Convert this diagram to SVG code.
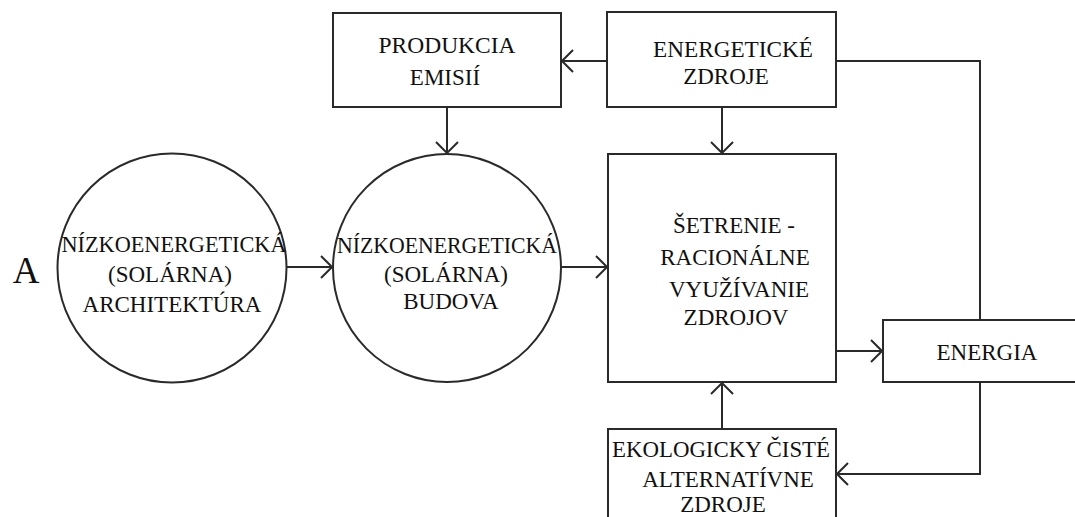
<svg xmlns="http://www.w3.org/2000/svg" width="1075" height="517" viewBox="0 0 1075 517">
<style>
.n{fill:#fff;stroke:#2a2a2a;stroke-width:2}
.t{font-family:'Liberation Serif','Times New Roman',serif;font-size:23px;fill:#111;text-anchor:middle}
.c{fill:none;stroke:#2a2a2a;stroke-width:2}
</style>
<defs>
<marker id="ah" markerUnits="userSpaceOnUse" markerWidth="14" markerHeight="26" viewBox="-13 -12 14 24" refX="0" refY="0" orient="auto">
<path d="M-11,-11 L0,0 L-11,11" fill="none" stroke="#2a2a2a" stroke-width="2"/>
</marker>
</defs>
<rect width="1075" height="517" fill="#fff"/>
<text class="t" x="26" y="283" style="font-size:37px">A</text>
<g id="connectors">
<line class="c" x1="287" y1="267" x2="332" y2="267" marker-end="url(#ah)"/>
<line class="c" x1="561" y1="267" x2="607" y2="267" marker-end="url(#ah)"/>
<line class="c" x1="447" y1="107" x2="447" y2="153" marker-end="url(#ah)"/>
<line class="c" x1="722" y1="107" x2="722" y2="153" marker-end="url(#ah)"/>
<line class="c" x1="607" y1="61" x2="562" y2="61" marker-end="url(#ah)"/>
<polyline class="c" points="836,61 980,61 980,320"/>
<line class="c" x1="836" y1="351" x2="882" y2="351" marker-end="url(#ah)"/>
<line class="c" x1="722" y1="429" x2="722" y2="383" marker-end="url(#ah)"/>
<polyline class="c" points="980,382 980,474 837,474" marker-end="url(#ah)"/>
</g>
<g id="produkcia">
<rect class="n" x="333" y="13" width="228" height="94"/>
<text class="t" x="447" y="53" textLength="137" lengthAdjust="spacingAndGlyphs">PRODUKCIA</text>
<text class="t" x="445" y="85">EMISIÍ</text>
</g>
<g id="energeticke">
<rect class="n" x="607" y="12" width="229" height="95"/>
<text class="t" x="733" y="57" textLength="160" lengthAdjust="spacingAndGlyphs">ENERGETICKÉ</text>
<text class="t" x="726" y="84">ZDROJE</text>
</g>
<g id="architektura">
<circle class="n" cx="172" cy="268" r="114.5"/>
<text class="t" x="174" y="252" textLength="225" lengthAdjust="spacingAndGlyphs">NÍZKOENERGETICKÁ</text>
<text class="t" x="170" y="282">(SOLÁRNA)</text>
<text class="t" x="172" y="312">ARCHITEKTÚRA</text>
</g>
<g id="budova">
<circle class="n" cx="447" cy="268" r="114"/>
<text class="t" x="447" y="253" textLength="220" lengthAdjust="spacingAndGlyphs">NÍZKOENERGETICKÁ</text>
<text class="t" x="446" y="282">(SOLÁRNA)</text>
<text class="t" x="451" y="309">BUDOVA</text>
</g>
<g id="setrenie">
<rect class="n" x="608" y="154" width="228" height="228"/>
<text class="t" x="734" y="233">ŠETRENIE -</text>
<text class="t" x="735" y="265">RACIONÁLNE</text>
<text class="t" x="739" y="297">VYUŽÍVANIE</text>
<text class="t" x="736" y="325">ZDROJOV</text>
</g>
<g id="energia">
<rect class="n" x="883" y="320" width="200" height="62"/>
<text class="t" x="987" y="360">ENERGIA</text>
</g>
<g id="ekologicky">
<rect class="n" x="608" y="429" width="228" height="100"/>
<text class="t" x="721" y="457" textLength="218" lengthAdjust="spacingAndGlyphs">EKOLOGICKY ČISTÉ</text>
<text class="t" x="728" y="487">ALTERNATÍVNE</text>
<text class="t" x="723" y="512">ZDROJE</text>
</g>
</svg>
